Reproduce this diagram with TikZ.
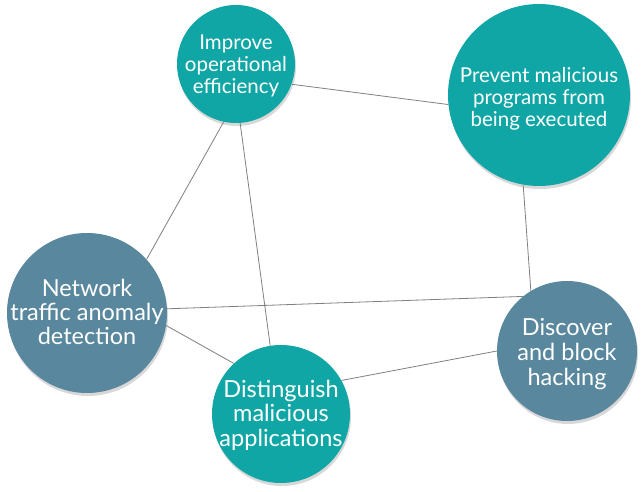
\documentclass[tikz,border=0pt]{standalone}
\usepackage{fontspec}
\setmainfont{Lato}
\usetikzlibrary{shadows}
\definecolor{tealc}{RGB}{16,166,166}
\definecolor{slatec}{RGB}{89,136,158}
\definecolor{linec}{RGB}{128,128,128}
\begin{document}
\begin{tikzpicture}[x=1pt,y=-1pt,
  bub/.style={circle,inner sep=0pt,
    drop shadow={opacity=0.3,shadow xshift=1pt,shadow yshift=-3pt}},
  tealb/.style={bub,fill=tealc},
  slateb/.style={bub,fill=slatec},
  lbl/.style={text=white,align=center,inner sep=0pt},
  conn/.style={draw=linec,line width=0.8pt}]
\useasboundingbox (0,0) rectangle (643,492);
\fill[white] (0,0) rectangle (643,492);
\node[tealb,minimum size=118pt] (imp) at (236,64) {};
\node[tealb,minimum size=182pt] (pre) at (539,95) {};
\node[slateb,minimum size=160pt] (net) at (87,313) {};
\node[tealb,minimum size=138pt] (dis) at (281,414) {};
\node[slateb,minimum size=140pt] (hac) at (567,351) {};
\node[lbl,font=\fontsize{20.5}{22}\selectfont] (impt) at (236,66) {Improve\\operational\\efficiency};
\node[lbl,font=\fontsize{20.5}{22}\selectfont] (pret) at (539,99) {Prevent malicious\\programs from\\being executed};
\node[lbl,font=\fontsize{23.5}{24}\selectfont] (nett) at (87,312) {Network\\traffic anomaly\\detection};
\node[lbl,font=\fontsize{23.5}{24.5}\selectfont] (dist) at (281,415) {Distinguish\\malicious\\applications};
\node[lbl,font=\fontsize{23.5}{25}\selectfont] (hact) at (567,354) {Discover\\and block\\hacking};
\draw[conn] (imp.-20) -- (pre.186);
\draw[conn] (imp.-102) -- (net.42);
\draw[conn] (imp.-86) -- (dis.99);
\draw[conn] (pre.-100) -- (hac.121);
\draw[conn] (net.3) -- (hac.129);
\draw[conn] (net.-9) -- (dis.133);
\draw[conn] (dis.29) -- (hac.180);
\end{tikzpicture}
\end{document}
